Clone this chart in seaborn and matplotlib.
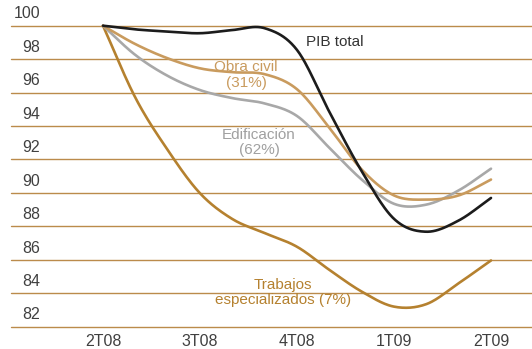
import numpy as np
import pandas as pd
import matplotlib
matplotlib.use("Agg")
import matplotlib.pyplot as plt
import seaborn as sns

# Quarter labels and monthly sample positions (0 = 2T08 ... 4 = 2T09)
quarters = ["2T08", "3T08", "4T08", "1T09", "2T09"]
months = [0, 1/3, 2/3, 1, 4/3, 5/3, 2, 7/3, 8/3, 3, 10/3, 11/3, 4]

# Index, 2T08 = 100
pib_total = [100, 99.78, 99.65, 99.55, 99.74, 99.85, 98.55, 94.85, 91.3, 88.45, 87.68, 88.35, 89.7]
obra_civil = [100, 98.9, 98.05, 97.45, 97.22, 97.1, 96.2, 93.9, 91.4, 89.85, 89.6, 89.85, 90.8]
edificacion = [100, 98.25, 97.0, 96.15, 95.67, 95.35, 94.6, 92.7, 90.8, 89.35, 89.3, 90.15, 91.45]
trabajos = [100, 95.7, 92.57, 89.98, 88.44, 87.6, 86.78, 85.4, 84.1, 83.2, 83.35, 84.6, 85.96]

y_ticks = [82, 84, 86, 88, 90, 92, 94, 96, 98, 100]

series = {
    "PIB total": pib_total,
    "Obra civil": obra_civil,
    "Edificación": edificacion,
    "Trabajos especializados": trabajos,
}
colors = {
    "PIB total": "#1c1c1c",
    "Obra civil": "#c99b5e",
    "Edificación": "#a8a8a8",
    "Trabajos especializados": "#b5812f",
}


def smooth_curve(x, y, n=24):
    """Cubic Hermite curve with Catmull-Rom tangents through the points."""
    x = np.asarray(x, float)
    y = np.asarray(y, float)
    m = np.empty_like(y)
    m[1:-1] = (y[2:] - y[:-2]) / (x[2:] - x[:-2])
    m[0] = (y[1] - y[0]) / (x[1] - x[0])
    m[-1] = (y[-1] - y[-2]) / (x[-1] - x[-2])
    xs, ys = [], []
    for i in range(len(x) - 1):
        h = x[i + 1] - x[i]
        t = np.linspace(0, 1, n, endpoint=(i == len(x) - 2))
        h00 = 2 * t**3 - 3 * t**2 + 1
        h10 = t**3 - 2 * t**2 + t
        h01 = -2 * t**3 + 3 * t**2
        h11 = t**3 - t**2
        xs.append(x[i] + t * h)
        ys.append(h00 * y[i] + h10 * h * m[i] + h01 * y[i + 1] + h11 * h * m[i + 1])
    return np.concatenate(xs), np.concatenate(ys)


frames = []
for name, vals in series.items():
    sx, sy = smooth_curve(months, vals)
    frames.append(pd.DataFrame({"t": sx, "indice": sy, "serie": name}))
df = pd.concat(frames, ignore_index=True)

sns.set_theme(style="white")
plt.rcParams["font.family"] = ["Liberation Sans", "DejaVu Sans"]

fig = plt.figure(figsize=(5.32, 3.49), dpi=100)
ax = fig.add_axes([11 / 532, (349 - 328) / 349, 1 - 11 / 532, 328 / 349])

grid_color = "#bb8b4b"
for v in y_ticks:
    ax.axhline(v, color=grid_color, lw=1.0, zorder=1, clip_on=False)

sns.lineplot(data=df, x="t", y="indice", hue="serie", palette=colors,
             hue_order=list(series.keys())[::-1], estimator=None, sort=False,
             linewidth=1.9, legend=False, ax=ax, zorder=3)

ax.set_xlim(-92 / 97, (532 - 103) / 97)
ax.set_ylim(82 - 1.3 / 16.72, 100 + 25.7 / 16.72)

ax.set_xticks(range(len(quarters)))
ax.set_xticklabels(quarters)
ax.set_yticks([])
ax.tick_params(axis="x", length=0, pad=4.5, labelsize=11.5, labelcolor="#404040")
for s in ax.spines.values():
    s.set_visible(False)
ax.set_xlabel("")
ax.set_ylabel("")

# Value labels sit just above their gridline
for v in y_ticks:
    ax.annotate(str(v), xy=(0, v), xycoords=ax.get_yaxis_transform(),
                xytext=(21, 8.5), textcoords="offset points",
                ha="right", va="center", fontsize=11.5, color="#404040")

label_kw = dict(ha="center", va="center", fontsize=11, linespacing=1.12)
ax.text(2.39, 99.03, "PIB total", color="#333333", **label_kw)
ax.text(1.474, 97.05, "Obra civil\n(31%)", color="#c99b5e", **label_kw)
ax.text(1.608, 93.01, "Edificación\n(62%)", color="#a0a0a0", **label_kw)
ax.text(1.856, 84.04, "Trabajos\nespecializados (7%)", color="#b5812f", **label_kw)

fig.savefig("out.png", dpi=100)
